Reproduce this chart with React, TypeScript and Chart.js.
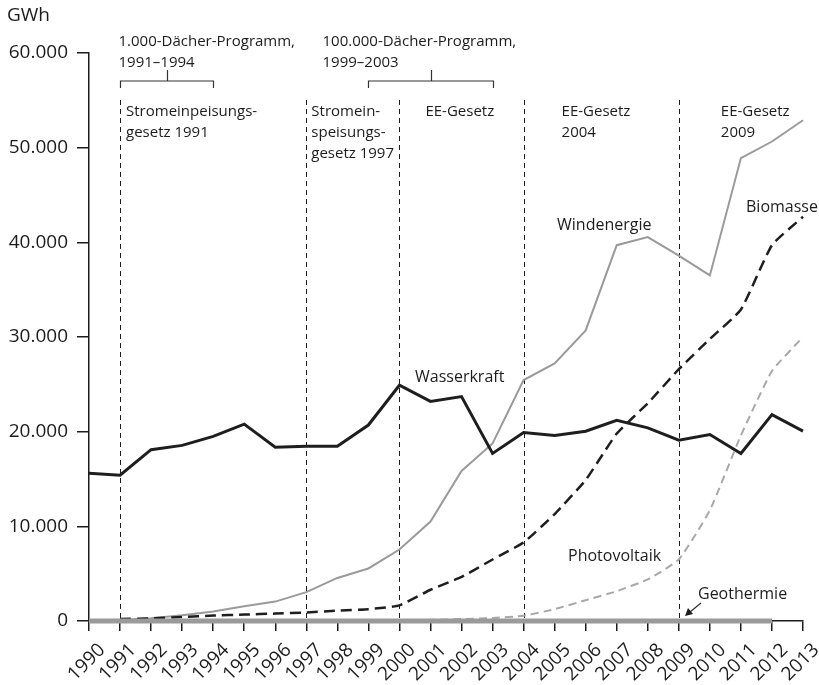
import React, { useEffect, useRef } from 'react';
import { Chart, registerables } from 'chart.js';

Chart.register(...registerables);

const years = ['1990','1991','1992','1993','1994','1995','1996','1997','1998','1999','2000','2001','2002','2003','2004','2005','2006','2007','2008','2009','2010','2011','2012','2013'];

const wasserkraft = [15600, 15400, 18100, 18550, 19500, 20800, 18350, 18450, 18450, 20700, 24900, 23200, 23700, 17700, 19900, 19600, 20050, 21200, 20400, 19100, 19700, 17700, 21800, 20050];
const windenergie = [70, 100, 280, 600, 1000, 1550, 2050, 3050, 4550, 5550, 7550, 10500, 15850, 18750, 25450, 27200, 30700, 39700, 40550, 38600, 36500, 48900, 50650, 52900];
const biomasse = [null, 220, 280, 420, 580, 680, 780, 900, 1100, 1250, 1650, 3300, 4650, 6500, 8300, 11300, 14900, 19800, 23000, 26600, 29800, 32900, 39700, 42700];
const photovoltaik = [0, 0, 0, 0, 0, 10, 20, 20, 30, 30, 60, 120, 200, 320, 560, 1250, 2200, 3150, 4400, 6500, 11700, 19600, 26400, 30000];
const geothermie = [0, 0, 0, 0, 0, 0, 0, 0, 0, 0, 0, 0, 0, 0, 0, 0, 0, 0, 0, 20, 30, 20, 30, null];

const yTicks = [0, 10000, 20000, 30000, 40000, 50000, 60000];
const lawYears = ['1991', '1997', '2000', '2004', '2009'];
const lawLabels = [
  ['Stromeinpeisungs-', 'gesetz 1991'],
  ['Stromein-', 'speisungs-', 'gesetz 1997'],
  ['EE-Gesetz'],
  ['EE-Gesetz', '2004'],
  ['EE-Gesetz', '2009'],
];
const lawLabelShift = [6, 5, 26, 38, 42];
const programmes = [
  { from: '1991', to: '1994', lines: ['1.000-Dächer-Programm,', '1991–1994'] },
  { from: '1999', to: '2003', lines: ['100.000-Dächer-Programm,', '1999–2003'] },
];

const FONT = '"Open Sans", "Noto Sans", sans-serif';
const INK = '#1c1c1c';

const fmt = (v: number) => String(v).replace(/\B(?=(\d{3})+(?!\d))/g, '.');

const annotations = {
  id: 'annotations',
  beforeDatasetsDraw(chart: any) {
    const { ctx, scales } = chart;
    const x = scales.x;
    const y = scales.y;
    ctx.save();
    ctx.strokeStyle = INK;
    ctx.lineWidth = 1;
    ctx.setLineDash([5, 4]);
    lawYears.forEach((yr) => {
      const px = Math.round(x.getPixelForValue(years.indexOf(yr))) + 0.5;
      ctx.beginPath();
      ctx.moveTo(px, 100);
      ctx.lineTo(px, y.getPixelForValue(0));
      ctx.stroke();
    });
    ctx.restore();
  },
  afterDraw(chart: any) {
    const { ctx, scales } = chart;
    const x = scales.x;
    ctx.save();
    ctx.fillStyle = INK;
    ctx.font = `15px ${FONT}`;
    ctx.textBaseline = 'alphabetic';
    ctx.textAlign = 'left';
    const baselines = [116, 137, 158];
    lawYears.forEach((yr, i) => {
      const px = x.getPixelForValue(years.indexOf(yr));
      lawLabels[i].forEach((t, j) => {
        ctx.fillText(t, px + lawLabelShift[i], baselines[j]);
      });
    });
    // programme brackets
    ctx.strokeStyle = '#333';
    ctx.lineWidth = 1.2;
    programmes.forEach((p, i) => {
      const a = Math.round(x.getPixelForValue(years.indexOf(p.from))) + 0.5;
      const b = Math.round(x.getPixelForValue(years.indexOf(p.to))) + 0.5;
      const m = Math.round((a + b) / 2) + 0.5;
      ctx.beginPath();
      ctx.moveTo(a, 88);
      ctx.lineTo(a, 81);
      ctx.lineTo(b, 81);
      ctx.lineTo(b, 88);
      ctx.moveTo(m, 81);
      ctx.lineTo(m, 70);
      ctx.stroke();
      const tx = i === 0 ? a - 2 : a - 46;
      ctx.fillText(p.lines[0], tx, 46);
      ctx.fillText(p.lines[1], tx, 67);
    });
    // series labels
    ctx.font = `16px ${FONT}`;
    ctx.fillText('Wasserkraft', 415, 382);
    ctx.fillText('Windenergie', 557, 230);
    ctx.fillText('Biomasse', 746, 212);
    ctx.fillText('Photovoltaik', 568, 561);
    ctx.fillText('Geothermie', 698, 599);
    // arrow for Geothermie
    ctx.lineWidth = 1.2;
    ctx.beginPath();
    ctx.moveTo(701, 603);
    ctx.lineTo(690, 612);
    ctx.stroke();
    ctx.beginPath();
    ctx.moveTo(685, 616);
    ctx.lineTo(688, 608);
    ctx.lineTo(693, 614);
    ctx.closePath();
    ctx.fill();
    // unit
    ctx.font = `19px ${FONT}`;
    ctx.fillText('GWh', 7, 21);
    ctx.restore();
  },
};

export default function App() {
  const ref = useRef<HTMLCanvasElement | null>(null);
  useEffect(() => {
    if (!ref.current) return;
    const chart = new Chart(ref.current, {
      type: 'line',
      data: {
        labels: years,
        datasets: [
          { label: 'Wasserkraft', data: wasserkraft, borderColor: '#1e1e1e', borderWidth: 3, pointRadius: 0, tension: 0, clip: 8 },
          { label: 'Geothermie', data: geothermie.map((v) => (v === null ? null : 0)), borderColor: '#9a9a9a', borderWidth: 5, pointRadius: 0, tension: 0, clip: 8, borderCapStyle: 'butt' },
          { label: 'Biomasse', data: biomasse, borderColor: '#1e1e1e', borderWidth: 2.5, borderDash: [11, 6], pointRadius: 0, tension: 0.15, clip: 8 },
          { label: 'Windenergie', data: windenergie, borderColor: '#9a9a9a', borderWidth: 2, pointRadius: 0, tension: 0, clip: 8 },
          { label: 'Photovoltaik', data: photovoltaik, borderColor: '#a8a8a8', borderWidth: 2, borderDash: [8, 5], pointRadius: 0, tension: 0.15, clip: 8 },
        ] as any,
      },
      options: {
        responsive: false,
        animation: false,
        events: [],
        layout: { padding: { top: 53, right: 16, left: 0, bottom: 0 } },
        plugins: { legend: { display: false }, tooltip: { enabled: false } },
        scales: {
          x: {
            type: 'category',
            offset: false,
            grid: { display: true, drawOnChartArea: false, drawTicks: true, tickLength: 10, color: INK, lineWidth: 1.5 },
            border: { display: true, color: INK, width: 1.5 },
            ticks: { autoSkip: false, maxRotation: 45, minRotation: 45, color: INK, font: { size: 19, family: FONT }, padding: 8, labelOffset: 13 },
            afterFit: (s: any) => { s.height = 64; s.paddingLeft = 0; s.paddingRight = 0; },
          },
          y: {
            min: 0,
            max: 60000,
            afterBuildTicks: (s: any) => { s.ticks = yTicks.map((v) => ({ value: v })); },
            grid: { display: true, drawOnChartArea: false, drawTicks: true, tickLength: 12, color: INK, lineWidth: 1.5 },
            border: { display: true, color: INK, width: 1.5 },
            ticks: { color: INK, font: { size: 19, family: FONT }, padding: 9, callback: (v: any) => fmt(Number(v)) },
            afterFit: (s: any) => { s.width = 89; },
          },
        },
      },
      plugins: [annotations],
    });
    return () => chart.destroy();
  }, []);
  return (
    <div style={{ position: 'absolute', left: 0, top: 0, width: 819, height: 685, background: '#fff' }}>
      <canvas ref={ref} width={819} height={685} />
    </div>
  );
}
